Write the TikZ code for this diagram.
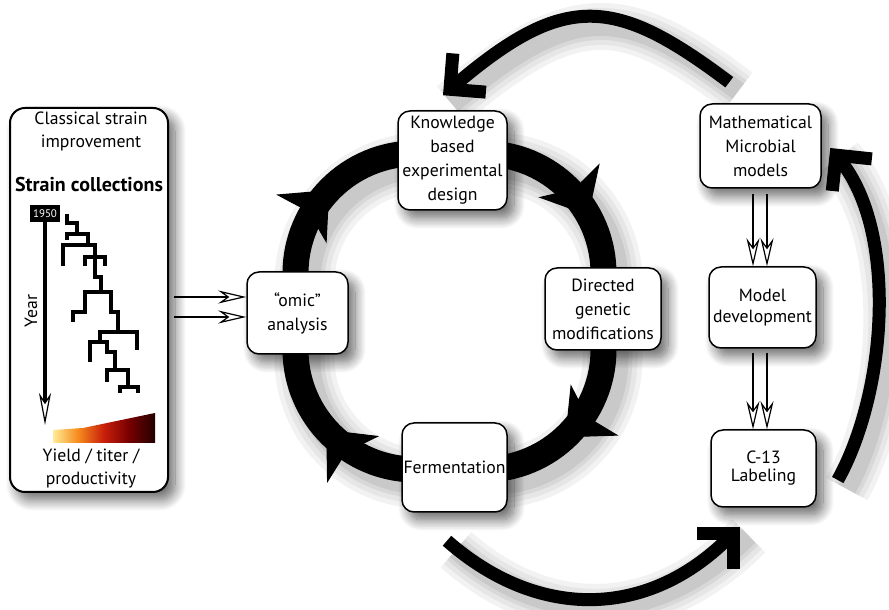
\documentclass[tikz,border=0pt]{standalone}
\usepackage{fontspec}
\setmainfont{PT Sans}
\usetikzlibrary{arrows.meta,shadows.blur,backgrounds}

\definecolor{yieldA}{RGB}{255,236,150}
\definecolor{yieldB}{RGB}{247,140,30}
\definecolor{yieldC}{RGB}{200,30,10}
\definecolor{yieldD}{RGB}{120,0,0}
\definecolor{yieldE}{RGB}{35,0,0}
\pgfdeclarehorizontalshading{yieldshade}{100bp}{color(0bp)=(yieldA); color(25bp)=(yieldA); color(37bp)=(yieldB); color(50bp)=(yieldC); color(62bp)=(yieldD); color(75bp)=(yieldE); color(100bp)=(yieldE)}

\tikzset{
  box/.style={draw, line width=1.5pt, rounded corners=12pt, fill=white, align=center, inner sep=1pt,
    font=\fontsize{17.7}{24}\selectfont,
    blur shadow={shadow xshift=7pt, shadow yshift=-8pt, shadow blur radius=11pt, shadow blur steps=14, shadow opacity=60}},
  lbl/.style={align=center, font=\fontsize{17.7}{23}\selectfont},
  ring/.style={line width=26pt, rounded corners=120pt},
  ringtip/.style={line width=1pt, -{Stealth[length=40pt, width=70pt, inset=10pt]}},
  bigarrow/.style={line width=13pt, -{Straight Barb[angle=90:36pt]}},
  dbl/.style={line width=1.8pt, -{Stealth[length=28pt, width=13pt, inset=9pt, fill=white, line width=1.2pt]}},
  tree/.style={line width=4pt},
  softshade/.style={
    preaction={draw, draw opacity=0.05, line width=#1+34pt, arrows=-, transform canvas={xshift=9pt, yshift=-9pt}},
    preaction={draw, draw opacity=0.05, line width=#1+24pt, arrows=-, transform canvas={xshift=9pt, yshift=-9pt}},
    preaction={draw, draw opacity=0.06, line width=#1+14pt, arrows=-, transform canvas={xshift=9pt, yshift=-9pt}},
    preaction={draw, draw opacity=0.07, line width=#1+6pt, arrows=-, transform canvas={xshift=9pt, yshift=-9pt}}}
}

\begin{document}
\begin{tikzpicture}[x=1pt,y=1pt]
\useasboundingbox (0,0) rectangle (889,610);

% strain collection panel
\node[box, rounded corners=15pt, line width=2pt, minimum width=158pt, minimum height=384pt] (strain) at (89,310) {};
\node[lbl] (title) at (91,478.5) {Classical strain\\improvement};
\node[lbl, font=\fontsize{20}{23}\selectfont\bfseries] (coll) at (89,425) {Strain collections};
\node[fill=black, text=white, inner sep=1pt, minimum width=30pt, minimum height=17pt, font=\fontsize{11}{11}\selectfont] (yr) at (45,396.5) {1950};
\coordinate (yend) at (45,185);
\draw[line width=4pt, -{Stealth[length=32pt, width=12pt, inset=9pt, fill=white, line width=1.2pt]}] (yr.south) -- (yend);
\node[lbl, rotate=90] (yearlbl) at (31,299) {Year};
\begin{scope}[shift={(0,610)}, yscale=-1]
\draw[tree] (67,214) -- (67,223) -- (77,223) -- (77,234);
\draw[tree] (67,240) -- (67,234) -- (88,234) -- (88,245);
\draw[tree] (63,266) -- (63,245) -- (95,245) -- (95,257);
\draw[tree] (85,266) -- (85,257) -- (105,257) -- (105,266);
\draw[tree] (95,257) -- (95,277) -- (101,277) -- (101,292);
\draw[tree] (85,302) -- (85,292) -- (111,292) -- (111,312) -- (118,312) -- (118,332);
\draw[tree] (73,322) -- (73,312) -- (85,312) -- (85,302);
\draw[tree] (100,342) -- (100,332) -- (137,332) -- (137,350);
\draw[tree] (90,362) -- (90,342) -- (107,342) -- (107,352) -- (115,352) -- (115,370);
\draw[tree] (107,382) -- (107,370) -- (128,370) -- (128,387);
\draw[tree] (120,393) -- (120,387) -- (138,387) -- (138,393);
\end{scope}
\shade[shading=yieldshade] (53,167) -- (53,180) -- (83,182) -- (155,197) -- (155,167) -- cycle;
\node[lbl] (yield) at (91,141.5) {Yield / titer /\\productivity};

% cycle boxes
\node[box, minimum width=109pt, minimum height=99pt] (know) at (452.5,449.5) {Knowledge\\based\\experimental\\design};
\node[box, minimum width=116pt, minimum height=82pt] (direct) at (603,301) {Directed\\genetic\\modifications};
\node[box, minimum width=105pt, minimum height=89pt] (ferm) at (454.5,142.5) {Fermentation};
\node[box, minimum width=101pt, minimum height=82pt] (omic) at (297.5,297) {“omic”\\analysis};
\coordinate (ringc) at (449.5,298.5);

% model boxes
\node[box, minimum width=121pt, minimum height=84pt] (math) at (760.5,464) {Mathematical\\Microbial\\models};
\node[box, minimum width=107pt, minimum height=81pt] (model) at (762.5,302.5) {Model\\[-3pt]development};
\node[box, minimum width=105pt, minimum height=77pt] (c13) at (763.5,141.5) {C-13\\[-6pt]Labeling};

\begin{scope}[on background layer]
\draw[ring, softshade=26pt] (ringc) +(-154,-158) rectangle +(154,158);
\draw[ringtip] (ringc) ++(34,38) ++(62:120) arc[start angle=62, end angle=29, radius=120];
\draw[ringtip] (ringc) ++(34,-38) ++(-14:120) arc[start angle=-14, end angle=-47, radius=120];
\draw[ringtip] (ringc) ++(-34,-38) ++(255:120) arc[start angle=255, end angle=222, radius=120];
\draw[ringtip] (ringc) ++(-34,38) ++(169:120) arc[start angle=169, end angle=136, radius=120];
\draw[bigarrow, softshade=13pt] ([shift={(30,21)}]math.north west) .. controls +(-114,86) and +(122,104) .. ([shift={(-9.5,15)}]know.north);
\draw[bigarrow, softshade=13pt] ([shift={(21,-11.5)}]c13.east) .. controls +(49,88) and +(68,-84) .. ([shift={(8.5,-2)}]math.east);
\draw[bigarrow, softshade=13pt] ([shift={(-7.5,-28)}]ferm.south) .. controls +(91,-80) and +(-92,-92) .. ([shift={(29.5,-19)}]c13.south west);
\end{scope}

% feeds
\draw[dbl] ([shift={(5,16)}]strain.east |- omic.west) -- ([yshift=16pt]omic.west);
\draw[dbl] ([shift={(5,-4)}]strain.east |- omic.west) -- ([yshift=-4pt]omic.west);
\draw[dbl] ([shift={(-7.5,-5)}]math.south) -- ([xshift=-7.5pt]math.south |- model.north);
\draw[dbl] ([shift={(6.5,-5)}]math.south) -- ([xshift=6.5pt]math.south |- model.north);
\draw[dbl] ([shift={(-9.5,-4)}]model.south) -- ([xshift=-9.5pt]model.south |- c13.north);
\draw[dbl] ([shift={(4.5,-4)}]model.south) -- ([xshift=4.5pt]model.south |- c13.north);
\end{tikzpicture}
\end{document}
